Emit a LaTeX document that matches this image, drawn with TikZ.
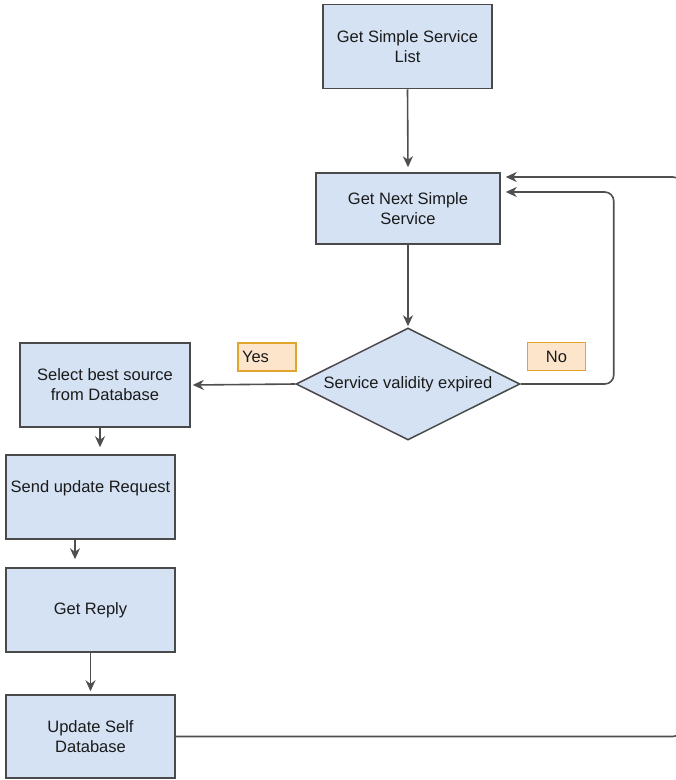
\documentclass[tikz,border=0pt]{standalone}
\usepackage{fontspec}
\setmainfont{Liberation Sans}
\usetikzlibrary{arrows.meta,shapes.geometric,calc}

\definecolor{boxfill}{HTML}{D4E2F4}
\definecolor{boxline}{HTML}{4A4A4A}
\definecolor{wire}{HTML}{4F4F4F}
\definecolor{tagfill}{HTML}{FDE5CC}
\definecolor{tagline}{HTML}{E1A52E}
\definecolor{ink}{HTML}{1A1A1A}

\begin{document}
\begin{tikzpicture}[x=1pt,y=-1pt,
  every node/.style={font=\fontsize{16.5}{20}\selectfont, text=ink},
  proc/.style={draw=boxline, fill=boxfill, line width=1.5pt, align=center, inner sep=0pt},
  decision/.style={diamond, draw=boxline, fill=boxfill, line width=1.5pt, inner sep=0pt,
    aspect=2, minimum width=224pt, minimum height=112pt},
  tag/.style={draw=tagline, fill=tagfill, line width=1.4pt, minimum width=58pt,
    minimum height=28pt, inner sep=0pt},
  flow/.style={draw=wire, line width=1.6pt, -{Stealth[length=11pt,width=10pt,inset=3.5pt]}}]
\useasboundingbox (0,0) rectangle (676,780);

% process steps
\node[proc, minimum width=169pt, minimum height=84pt] (list) at (407.5,46.5) {Get Simple Service\\List};
\node[proc, minimum width=184pt, minimum height=71pt] (next) at (408,208.5) {Get Next Simple\\Service};
\node[decision] (check) at (408,384) {Service validity expired};
\node[proc, minimum width=170pt, minimum height=84pt] (select) at (105,385) {Select best source\\from Database};
\node[proc, minimum width=169pt, minimum height=84pt] (send) at (90.5,497) {Send update Request\\[0pt]\mbox{}};
\node[proc, minimum width=169pt, minimum height=84pt] (reply) at (90.5,610) {Get Reply};
\node[proc, minimum width=169pt, minimum height=83pt] (update) at (90.5,736.5) {Update Self\\Database};

% branch labels
\node[tag, text width=50pt, align=left] (yes) at (267,357) {Yes};
\node[tag] (no) at (556.5,356.5) {No};

% main flow
\draw[flow] (list.south) -- ($(next.north)+(0,-5)$);
\draw[flow] (next.south) -- ($(check.north)+(0,-1)$);
\draw[flow] (check.west) -- ($(select.east)+(2,0)$);
\draw[flow] ($(select.south)+(-5,0)$) -- ($(send.north -| select.south)+(-5,-7)$);
\draw[flow] ($(send.south)+(-15.5,0)$) -- ($(reply.north)+(-15.5,-8)$);
\draw[flow] (reply.south) -- ($(update.north)+(0,-3)$);

% loop back when the service is still valid
\draw[flow, rounded corners=9pt] (check.east) -| ($(next.east)+(113,-16.5)$) -- ($(next.east)+(5,-16.5)$);

% loop back after the database update
\draw[flow, rounded corners=9pt] (update.east) -| ($(next.east)+(181,-31.5)$) -- ($(next.east)+(5,-31.5)$);
\end{tikzpicture}
\end{document}
